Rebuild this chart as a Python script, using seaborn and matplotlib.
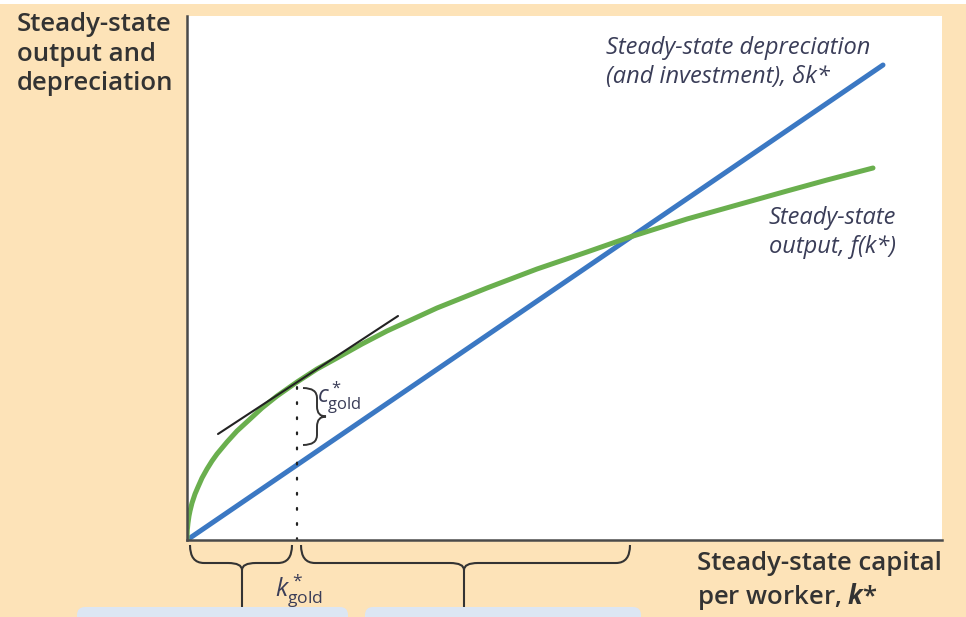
import numpy as np
import matplotlib
matplotlib.use("Agg")
import matplotlib.pyplot as plt
import seaborn as sns
from matplotlib.path import Path
from matplotlib.patches import PathPatch, FancyBboxPatch, Rectangle
from matplotlib.transforms import IdentityTransform

# data (1 unit = 100 px)
k_out = [0, 0.003, 0.01, 0.02, 0.03, 0.05, 0.08, 0.11, 0.15, 0.2, 0.25, 0.3, 0.4, 0.5,
         0.62, 0.75, 0.9, 1.1, 1.3, 1.5, 1.75, 2.0, 2.5, 3.0, 3.5, 4.0, 4.43, 5.0, 5.5,
         6.0, 6.4, 6.86]
f_out = [0, 0.10, 0.17, 0.24, 0.29, 0.37, 0.46, 0.53, 0.62, 0.71, 0.79, 0.86, 0.98, 1.09,
         1.20, 1.32, 1.44, 1.58, 1.71, 1.82, 1.96, 2.09, 2.32, 2.52, 2.71, 2.88, 3.03, 3.21,
         3.35, 3.49, 3.60, 3.72]
k_dep = [0, 6.96]
dep = [0, 4.75]
k_tan = [0.31, 2.11]
tan = [1.06, 2.24]
k_gold = 1.10
f_gold = 1.55
c_gold_lo, c_gold_hi = 0.95, 1.52
k_cross = 4.43

peach = "#FDE3B8"
blue = "#3B78C3"
green = "#6AAF4E"
ink = "#333333"
lab = "#3A3D58"

sns.set_style("white")
plt.rcParams["font.family"] = ["Open Sans", "DejaVu Sans"]
plt.rcParams["mathtext.fontset"] = "custom"
plt.rcParams["mathtext.rm"] = "Open Sans"
plt.rcParams["mathtext.it"] = "Open Sans:italic"
plt.rcParams["mathtext.bf"] = "Open Sans:italic:bold"

fig = plt.figure(figsize=(9.66, 6.17), dpi=100, facecolor=peach)
ax = fig.add_axes([187 / 966, 77 / 617, 755 / 966, 524 / 617])
ax.set_facecolor("white")
ax.set_xlim(0, 7.55)
ax.set_ylim(0, 5.24)
ax.set_xticks([])
ax.set_yticks([])
for s in ["top", "right"]:
    ax.spines[s].set_visible(False)
for s in ["left", "bottom"]:
    ax.spines[s].set_color("#4a4a4a")
    ax.spines[s].set_linewidth(1.8)

sns.lineplot(x=k_dep, y=dep, ax=ax, color=blue, lw=3.6, sort=False, estimator=None)
sns.lineplot(x=k_out, y=f_out, ax=ax, color=green, lw=3.6, sort=False, estimator=None)
sns.lineplot(x=k_tan, y=tan, ax=ax, color="#222222", lw=1.5, sort=False, estimator=None)
ax.plot([k_gold, k_gold], [0, f_gold], color="#222222", lw=1.6, ls=(0, (0.8, 6)),
        solid_capstyle="round", dash_capstyle="round")


def brace_h(x0, x1, xm, ytop, depth, cusp, stem_to, r=0.14):
    yb = ytop - depth
    yc = yb - cusp
    verts = [(x0, ytop), (x0, yb), (x0 + r, yb), (xm - r, yb), (xm, yb), (xm, yc),
             (xm, yb), (xm + r, yb), (x1 - r, yb), (x1, yb), (x1, ytop)]
    codes = [Path.MOVETO, Path.CURVE3, Path.CURVE3, Path.LINETO, Path.CURVE3, Path.CURVE3,
             Path.CURVE3, Path.CURVE3, Path.LINETO, Path.CURVE3, Path.CURVE3]
    ax.add_patch(PathPatch(Path(verts, codes), fill=False, ec=ink, lw=1.5, clip_on=False))
    ax.plot([xm, xm], [yc, stem_to], color=ink, lw=1.5, clip_on=False)


def brace_v(y0, y1, ym, xleft, depth, cusp, r=0.1):
    xb = xleft + depth
    xc = xb + cusp
    verts = [(xleft, y1), (xb, y1), (xb, y1 - r), (xb, ym + r), (xb, ym), (xc, ym),
             (xb, ym), (xb, ym - r), (xb, y0 + r), (xb, y0), (xleft, y0)]
    codes = [Path.MOVETO, Path.CURVE3, Path.CURVE3, Path.LINETO, Path.CURVE3, Path.CURVE3,
             Path.CURVE3, Path.CURVE3, Path.LINETO, Path.CURVE3, Path.CURVE3]
    ax.add_patch(PathPatch(Path(verts, codes), fill=False, ec=ink, lw=1.4))


brace_v(c_gold_lo, c_gold_hi, (c_gold_lo + c_gold_hi) / 2, 1.16, 0.14, 0.09)
brace_h(0.03, 1.05, 0.55, -0.05, 0.18, 0.07, -0.67)
brace_h(1.14, k_cross, 2.77, -0.05, 0.18, 0.07, -0.67)

ax.text(1.30, 1.60, r"$c^*_{\mathrm{gold}}$", fontsize=17, color=lab, va="top", ha="left")
ax.text(0.88, -0.31, r"$k^*_{\mathrm{gold}}$", fontsize=18, color=lab, va="top", ha="left",
        clip_on=False)

fig.text(17 / 966, 1 - 12 / 617, "Steady-state\noutput and\ndepreciation", fontsize=18.5,
         fontweight="semibold", color=ink, va="top", ha="left", linespacing=1.25)
fig.text(606 / 966, 1 - 36 / 617, "Steady-state depreciation\n(and investment), δk*",
         fontsize=17, style="italic", color=lab, va="top", ha="left", linespacing=1.3)
fig.text(769 / 966, 1 - 206 / 617, "Steady-state\noutput, f(k*)", fontsize=17,
         style="italic", color=lab, va="top", ha="left", linespacing=1.3)
fig.text(697 / 966, 1 - 551 / 617, "Steady-state capital\nper worker, $\\mathbf{k}$*",
         fontsize=18.5, fontweight="semibold", color=ink, va="top", ha="left",
         linespacing=1.2)

# strip at the very top and the pale boxes at the bottom edge
fig.patches.append(Rectangle((0, 613), 966, 10, transform=IdentityTransform(),
                             fc="white", ec="none", figure=fig))
for xa, xb in [(77, 348), (365, 641)]:
    fig.patches.append(FancyBboxPatch((xa, -10), xb - xa, 20,
                                      boxstyle="round,pad=0,rounding_size=8",
                                      transform=IdentityTransform(), fc="#DCE6F3",
                                      ec="none", figure=fig))

fig.savefig("out.png", dpi=100, facecolor=peach)
